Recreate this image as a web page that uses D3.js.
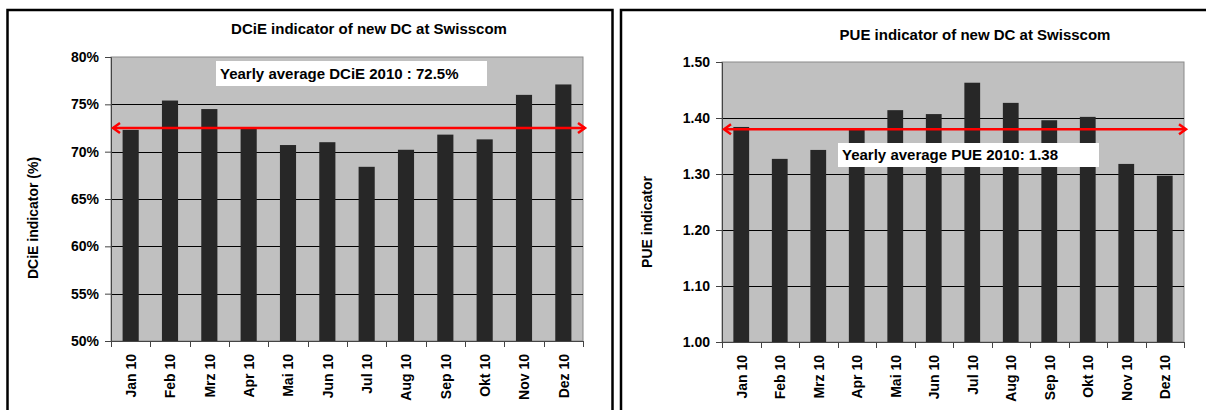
<!DOCTYPE html>
<html>
<head>
<meta charset="utf-8">
<script src="https://cdn.jsdelivr.net/npm/d3@7"></script>
<style>
  html, body { margin: 0; padding: 0; background: #ffffff; }
  svg { display: block; }
  text { font-family: "Liberation Sans", Arial, Helvetica, sans-serif; font-weight: bold; fill: #000; }
</style>
</head>
<body>
<svg id="chart" width="1206" height="410"></svg>
<script>
// Months shared by both charts
const months = ["Jan 10", "Feb 10", "Mrz 10", "Apr 10", "Mai 10", "Jun 10",
                 "Jul 10", "Aug 10", "Sep 10", "Okt 10", "Nov 10", "Dez 10"];

// DCiE per month (%)
const dcieValues = [72.3, 75.4, 74.5, 72.6, 70.7, 71.0, 68.4, 70.2, 71.8, 71.3, 76.0, 77.1];
const dcieAverage = 72.5;
const dcieTicks = [50, 55, 60, 65, 70, 75, 80];

// PUE per month
const pueValues = [1.384, 1.327, 1.343, 1.379, 1.414, 1.407, 1.463, 1.427, 1.396, 1.402, 1.318, 1.297];
const pueAverage = 1.38;
const pueTicks = [1.00, 1.10, 1.20, 1.30, 1.40, 1.50];

const svg = d3.select("#chart");

function drawPanel(opt) {
  const g = svg.append("g");

  // panel frame
  g.append("rect")
    .attr("x", opt.frame[0]).attr("y", opt.frame[1])
    .attr("width", opt.frame[2]).attr("height", opt.frame[3])
    .attr("fill", "#fff").attr("stroke", "#000").attr("stroke-width", 2.5);

  const [x0, x1] = opt.xRange;
  const [yTop, yBottom] = opt.yRange;

  const x = d3.scaleBand().domain(months).range([x0, x1])
    .paddingInner(0.59).paddingOuter(0.295);
  const y = d3.scaleLinear().domain(opt.yDomain).range([yBottom, yTop]);

  // plot area
  g.append("rect")
    .attr("x", x0).attr("y", yTop)
    .attr("width", x1 - x0).attr("height", yBottom - yTop)
    .attr("fill", "#c0c0c0").attr("stroke", "#8a8a8a").attr("stroke-width", 1);

  // gridlines
  g.append("g").selectAll("line")
    .data(opt.ticks.filter(t => t !== opt.yDomain[0] && t !== opt.yDomain[1]))
    .join("line")
    .attr("x1", x0).attr("x2", x1)
    .attr("y1", d => Math.round(y(d)) + 0.5).attr("y2", d => Math.round(y(d)) + 0.5)
    .attr("stroke", "#000").attr("stroke-width", 1);

  // bars
  g.append("g").selectAll("rect")
    .data(months.map((m, i) => ({ m, v: opt.values[i] })))
    .join("rect")
    .attr("x", d => x(d.m)).attr("width", x.bandwidth())
    .attr("y", d => y(d.v)).attr("height", d => yBottom - y(d.v))
    .attr("fill", "#272727");

  // y axis
  const yAxis = g.append("g")
    .attr("transform", `translate(${x0},0)`)
    .call(d3.axisLeft(y).tickValues(opt.ticks).tickSize(6).tickPadding(6).tickFormat(opt.format));
  yAxis.select(".domain").attr("stroke", "#444");
  yAxis.selectAll(".tick line").attr("stroke", "#444");
  yAxis.selectAll("text").style("font-size", "14px").attr("fill", "#000");

  // x axis line and boundary ticks
  const step = x.step();
  g.append("line")
    .attr("x1", x0).attr("x2", x1)
    .attr("y1", yBottom + 0.5).attr("y2", yBottom + 0.5)
    .attr("stroke", "#444");
  g.append("g").selectAll("line")
    .data(d3.range(months.length + 1))
    .join("line")
    .attr("x1", i => Math.round(x0 + i * step) + 0.5).attr("x2", i => Math.round(x0 + i * step) + 0.5)
    .attr("y1", yBottom).attr("y2", yBottom + 6)
    .attr("stroke", "#444");

  // month labels
  g.append("g").selectAll("text")
    .data(months)
    .join("text")
    .attr("transform", m => `translate(${x(m) + x.bandwidth() / 2 + 0.5},${yBottom + 13}) rotate(-90)`)
    .attr("text-anchor", "end")
    .attr("dy", "0.35em")
    .style("font-size", "14px")
    .text(m => m);

  // y axis title
  g.append("text")
    .attr("transform", `translate(${opt.yTitleX},${opt.yTitleY}) rotate(-90)`)
    .attr("text-anchor", "middle")
    .attr("dy", "0.35em")
    .style("font-size", "14px")
    .text(opt.yTitle);

  // chart title
  g.append("text")
    .attr("x", (x0 + x1) / 2 + 22).attr("y", opt.titleY)
    .attr("text-anchor", "middle")
    .style("font-size", "15px")
    .text(opt.title);

  // average line with arrowheads on both ends
  const ay = y(opt.average);
  const ax0 = x0 + 2, ax1 = x1 + 2;
  const red = "#ff0000";
  g.append("line")
    .attr("x1", ax0).attr("x2", ax1).attr("y1", ay).attr("y2", ay)
    .attr("stroke", red).attr("stroke-width", 2.5);
  g.append("path")
    .attr("d", `M${ax0 + 7},${ay - 5} L${ax0},${ay} L${ax0 + 7},${ay + 5}`)
    .attr("fill", "none").attr("stroke", red).attr("stroke-width", 2.5);
  g.append("path")
    .attr("d", `M${ax1 - 7},${ay - 5} L${ax1},${ay} L${ax1 - 7},${ay + 5}`)
    .attr("fill", "none").attr("stroke", red).attr("stroke-width", 2.5);

  // average annotation box
  const [bx, by, bw, bh] = opt.box;
  g.append("rect")
    .attr("x", bx).attr("y", by).attr("width", bw).attr("height", bh)
    .attr("fill", "#fff");
  g.append("text")
    .attr("x", bx + 4).attr("y", by + bh / 2)
    .attr("dy", "0.35em")
    .style("font-size", "15px")
    .text(opt.boxText);
}

drawPanel({
  frame: [7.5, 10, 605, 420],
  xRange: [111, 583],
  yRange: [57, 341],
  yDomain: [50, 80],
  ticks: dcieTicks,
  format: d => d + "%",
  values: dcieValues,
  average: dcieAverage,
  yTitle: "DCiE indicator (%)",
  yTitleX: 33,
  yTitleY: 218,
  title: "DCiE indicator of new DC at Swisscom",
  titleY: 34,
  box: [216, 61, 271, 25],
  boxText: "Yearly average DCiE 2010 : " + dcieAverage.toFixed(1) + "%"
});

drawPanel({
  frame: [621, 10, 600, 420],
  xRange: [722, 1184],
  yRange: [62, 342],
  yDomain: [1.0, 1.5],
  ticks: pueTicks,
  format: d3.format(".2f"),
  values: pueValues,
  average: pueAverage,
  yTitle: "PUE indicator",
  yTitleX: 647,
  yTitleY: 222,
  title: "PUE indicator of new DC at Swisscom",
  titleY: 40,
  box: [838, 143, 261, 24],
  boxText: "Yearly average PUE 2010: " + pueAverage.toFixed(2)
});
</script>
</body>
</html>
